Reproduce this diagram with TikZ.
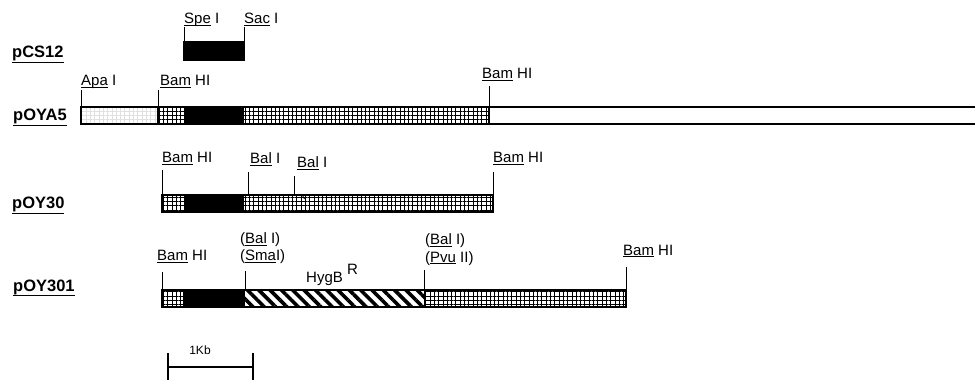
\documentclass[tikz,border=0pt]{standalone}
\usepackage{fontspec}
\setmainfont{Liberation Sans}
\usetikzlibrary{patterns.meta}
\newcommand{\undl}[2][2.4pt]{\leavevmode\setbox0=\hbox{#2}\rlap{\rule[-#1]{\wd0}{1.1pt}}\box0\relax}
\begin{document}
\begin{tikzpicture}[x=1pt,y=-1pt,
  site/.style={anchor=base west, inner sep=0pt, font=\fontsize{15}{18}\selectfont},
  plas/.style={anchor=base west, inner sep=0pt, font=\bfseries\fontsize{16.5}{19}\selectfont},
  small/.style={anchor=base, inner sep=0pt, font=\fontsize{12}{14}\selectfont},
  gridfill/.style={pattern={Hatch[distance=4.3pt,line width=0.7pt]}},
  fadegrid/.style={pattern={Hatch[distance=4.3pt,line width=0.5pt]}, pattern color=black!12},
  blk/.style={fill=black},
  stripe/.style={pattern={Lines[angle=-45,distance=8pt,line width=3.6pt]}},
  outline/.style={draw, line width=1.3pt},
  cut/.style={line width=1pt},
]
\useasboundingbox (0,0) rectangle (975,382);

% plasmid names
\node[plas] (pcs) at (12,58) {\undl[5pt]{pCS12}};
\node[plas] (poya) at (13,121) {\undl[5pt]{pOYA5}};
\node[plas] (poy30) at (12,209) {\undl[5pt]{pOY30}};
\node[plas] (poy301) at (13,291) {\undl[5pt]{pOY301}};

% pCS12
\path[blk] (184,42) rectangle (244,60);
\draw[outline] (184,42) rectangle (244,60);
\draw[cut] (184,42) -- (184,27) (244,42) -- (244,27);
\node[site] (spe) at (184,23.5) {\undl{Spe} I};
\node[site] (sac) at (244,23.5) {\undl{Sac} I};

% pOYA5
\path[fadegrid] (81,107) rectangle (158,124);
\path[gridfill] (158,107) rectangle (184,124);
\path[blk] (184,107) rectangle (244,124);
\path[gridfill] (244,107) rectangle (489,124);
\draw[outline] (975,107) -- (81,107) -- (81,124) -- (975,124);
\draw[outline] (158,107) -- (158,124) (489,107) -- (489,124);
\draw[cut] (81,107) -- (81,90) (158,107) -- (158,90) (489,107) -- (489,86);
\node[site] (apa) at (81,86) {\undl{Apa} I};
\node[site] (bama1) at (160,86) {\undl{Bam} HI};
\node[site] (bama2) at (482,79) {\undl{Bam} HI};

% pOY30
\path[gridfill] (162,195) rectangle (184,212);
\path[blk] (184,195) rectangle (244,212);
\path[gridfill] (244,195) rectangle (493,212);
\draw[outline] (162,195) rectangle (493,212);
\draw[cut] (162,195) -- (162,170) (248,195) -- (248,172) (294,195) -- (294,176) (493,195) -- (493,172);
\draw[line width=0.8pt] (302,194.5) -- (304.5,199);
\node[site] (bamb1) at (162,163) {\undl{Bam} HI};
\node[site] (bal1) at (250,164) {\undl{Bal} I};
\node[site] (bal2) at (297,168) {\undl{Bal} I};
\node[site] (bamb2) at (493,163) {\undl{Bam} HI};

% pOY301
\path[gridfill] (162,290) rectangle (183,307);
\path[blk] (183,290) rectangle (245,307);
\path[stripe] (245,290) rectangle (425,307);
\path[gridfill] (425,290) rectangle (626,307);
\draw[outline] (162,290) rectangle (626,307);
\draw[outline] (425,290) -- (425,307);
\draw[cut] (162,290) -- (162,272) (245,290) -- (245,271) (424,290) -- (424,270) (626,290) -- (626,267);
\node[site] (bamc1) at (157,261) {\undl{Bam} HI};
\node[site] (balc1) at (240,244) {(\undl{Bal} I)};
\node[site] (sma) at (240,261) {(\undl{Sma}I)};
\node[site] (hyg) at (306,283) {HygB};
\node[site] (hygr) at (347,275) {R};
\node[site] (balc2) at (425,245) {(\undl{Bal} I)};
\node[site] (pvu) at (425,262) {(\undl{Pvu} II)};
\node[site] (bamc2) at (623,255) {\undl{Bam} HI};

% scale bar
\draw[line width=1.3pt] (168,367) -- (253,367);
\draw[line width=1.3pt] (168,353) -- (168,380) (253,353) -- (253,380);
\node[small] (kb) at (200,354) {1Kb};
\end{tikzpicture}
\end{document}
